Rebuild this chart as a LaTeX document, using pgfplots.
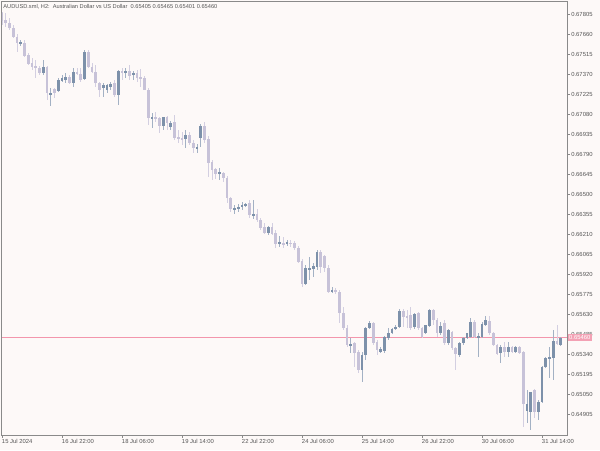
\documentclass[border=0pt]{standalone}
\usepackage{fontspec}
\setmainfont{Liberation Sans}
\usepackage{pgfplots}
\usepackage{pgfplotstable}
\pgfplotsset{compat=1.18}
\definecolor{bg}{HTML}{FDF9F8}
\definecolor{bull}{HTML}{7D91AA}
\definecolor{bear}{HTML}{C7C2D8}
\definecolor{bullw}{HTML}{A3B1C4}
\definecolor{bearw}{HTML}{D3CFE1}
\definecolor{framec}{HTML}{8A8A8A}
\definecolor{txt}{HTML}{555555}
\definecolor{curline}{RGB}{243,150,172}
\definecolor{plabel}{HTML}{F3A1B4}

\pgfplotstableread{
i o h l c
0 0.67812 0.67820 0.67725 0.67754
1 0.67762 0.67812 0.67711 0.67740
2 0.67740 0.67776 0.67689 0.67704
3 0.67704 0.67725 0.67631 0.67638
4 0.67638 0.67660 0.67530 0.67595
5 0.67588 0.67617 0.67573 0.67602
6 0.67595 0.67617 0.67493 0.67501
7 0.67508 0.67522 0.67435 0.67443
8 0.67450 0.67486 0.67399 0.67421
9 0.67428 0.67472 0.67341 0.67414
10 0.67414 0.67428 0.67363 0.67377
11 0.67377 0.67472 0.67363 0.67421
12 0.67421 0.67428 0.67182 0.67232
13 0.67225 0.67269 0.67138 0.67232
14 0.67261 0.67269 0.67196 0.67232
15 0.67247 0.67341 0.67240 0.67327
16 0.67319 0.67363 0.67312 0.67341
17 0.67327 0.67377 0.67305 0.67348
18 0.67348 0.67363 0.67298 0.67305
19 0.67305 0.67414 0.67276 0.67385
20 0.67385 0.67414 0.67363 0.67370
21 0.67370 0.67414 0.67312 0.67327
22 0.67334 0.67544 0.67327 0.67530
23 0.67530 0.67544 0.67414 0.67421
24 0.67421 0.67450 0.67377 0.67385
25 0.67385 0.67435 0.67276 0.67305
26 0.67305 0.67312 0.67203 0.67254
27 0.67269 0.67305 0.67203 0.67290
28 0.67254 0.67298 0.67232 0.67290
29 0.67276 0.67312 0.67254 0.67298
30 0.67305 0.67327 0.67203 0.67218
31 0.67218 0.67399 0.67145 0.67392
32 0.67392 0.67414 0.67327 0.67377
33 0.67377 0.67414 0.67341 0.67392
34 0.67392 0.67435 0.67327 0.67356
35 0.67363 0.67392 0.67327 0.67377
36 0.67377 0.67399 0.67312 0.67341
37 0.67348 0.67406 0.67276 0.67334
38 0.67341 0.67356 0.67254 0.67254
39 0.67254 0.67269 0.67000 0.67051
40 0.67051 0.67087 0.66979 0.67058
41 0.67058 0.67095 0.67022 0.67051
42 0.67051 0.67058 0.66942 0.66993
43 0.66993 0.67058 0.66964 0.67058
44 0.67058 0.67066 0.66964 0.67015
45 0.66986 0.67029 0.66964 0.67015
46 0.67022 0.67073 0.66892 0.66906
47 0.66913 0.66964 0.66870 0.66906
48 0.66906 0.66950 0.66855 0.66899
49 0.66899 0.66964 0.66834 0.66928
50 0.66928 0.66950 0.66855 0.66870
51 0.66870 0.66892 0.66797 0.66834
52 0.66826 0.66863 0.66797 0.66841
53 0.66906 0.67008 0.66841 0.66993
54 0.66993 0.67022 0.66870 0.66892
55 0.66899 0.66921 0.66623 0.66725
56 0.66732 0.66747 0.66602 0.66674
57 0.66681 0.66689 0.66609 0.66645
58 0.66645 0.66689 0.66602 0.66660
59 0.66652 0.66660 0.66587 0.66616
60 0.66616 0.66631 0.66435 0.66471
61 0.66471 0.66478 0.66370 0.66391
62 0.66384 0.66420 0.66355 0.66399
63 0.66391 0.66428 0.66370 0.66406
64 0.66406 0.66442 0.66384 0.66420
65 0.66420 0.66435 0.66406 0.66428
66 0.66435 0.66457 0.66326 0.66348
67 0.66348 0.66457 0.66319 0.66355
68 0.66355 0.66391 0.66297 0.66312
69 0.66312 0.66326 0.66239 0.66254
70 0.66261 0.66290 0.66210 0.66217
71 0.66217 0.66268 0.66203 0.66261
72 0.66261 0.66290 0.66203 0.66210
73 0.66217 0.66239 0.66109 0.66138
74 0.66145 0.66196 0.66116 0.66152
75 0.66145 0.66188 0.66109 0.66138
76 0.66138 0.66167 0.66123 0.66152
77 0.66145 0.66167 0.66116 0.66143
78 0.66145 0.66159 0.66094 0.66109
79 0.66109 0.66123 0.66000 0.66007
80 0.66014 0.66029 0.65826 0.65848
81 0.65848 0.65985 0.65840 0.65964
82 0.65956 0.66043 0.65877 0.65964
83 0.65956 0.66000 0.65898 0.65978
84 0.65971 0.66094 0.65949 0.66080
85 0.66080 0.66094 0.65927 0.65971
86 0.66051 0.66058 0.65935 0.65964
87 0.65964 0.65985 0.65782 0.65790
88 0.65790 0.65826 0.65782 0.65804
89 0.65804 0.65819 0.65775 0.65790
90 0.65790 0.65804 0.65565 0.65637
91 0.65637 0.65681 0.65514 0.65529
92 0.65529 0.65550 0.65391 0.65405
93 0.65405 0.65456 0.65347 0.65413
94 0.65420 0.65427 0.65246 0.65347
95 0.65355 0.65369 0.65202 0.65224
96 0.65224 0.65355 0.65137 0.65333
97 0.65333 0.65536 0.65297 0.65529
98 0.65529 0.65579 0.65521 0.65565
99 0.65565 0.65572 0.65405 0.65420
100 0.65427 0.65442 0.65333 0.65369
101 0.65355 0.65391 0.65347 0.65376
102 0.65362 0.65471 0.65347 0.65463
103 0.65456 0.65529 0.65442 0.65492
104 0.65492 0.65529 0.65485 0.65521
105 0.65521 0.65550 0.65514 0.65536
106 0.65536 0.65666 0.65529 0.65652
107 0.65652 0.65666 0.65536 0.65608
108 0.65616 0.65659 0.65529 0.65608
109 0.65623 0.65681 0.65514 0.65529
110 0.65536 0.65637 0.65521 0.65630
111 0.65637 0.65645 0.65514 0.65529
112 0.65529 0.65536 0.65456 0.65463
113 0.65492 0.65550 0.65485 0.65550
114 0.65543 0.65666 0.65536 0.65659
115 0.65659 0.65666 0.65550 0.65587
116 0.65587 0.65601 0.65463 0.65492
117 0.65492 0.65572 0.65478 0.65543
118 0.65565 0.65587 0.65405 0.65420
119 0.65420 0.65521 0.65405 0.65514
120 0.65500 0.65507 0.65369 0.65384
121 0.65384 0.65391 0.65224 0.65340
122 0.65333 0.65427 0.65318 0.65420
123 0.65420 0.65463 0.65405 0.65456
124 0.65456 0.65492 0.65449 0.65492
125 0.65463 0.65601 0.65456 0.65572
126 0.65572 0.65587 0.65456 0.65463
127 0.65463 0.65492 0.65318 0.65471
128 0.65463 0.65572 0.65456 0.65558
129 0.65550 0.65616 0.65543 0.65587
130 0.65579 0.65616 0.65478 0.65492
131 0.65492 0.65500 0.65398 0.65405
132 0.65405 0.65413 0.65333 0.65340
133 0.65347 0.65405 0.65275 0.65391
134 0.65391 0.65427 0.65318 0.65355
135 0.65355 0.65427 0.65318 0.65391
136 0.65391 0.65398 0.65347 0.65355
137 0.65355 0.65398 0.65347 0.65391
138 0.65391 0.65398 0.65340 0.65347
139 0.65355 0.65362 0.64811 0.64978
140 0.64927 0.65079 0.64840 0.64978
141 0.64920 0.65065 0.64789 0.65065
142 0.65079 0.65086 0.64876 0.64920
143 0.64920 0.65007 0.64862 0.64992
144 0.64992 0.65253 0.64985 0.65246
145 0.65246 0.65318 0.65239 0.65311
146 0.65311 0.65391 0.65166 0.65318
147 0.65311 0.65514 0.65152 0.65434
148 0.65434 0.65550 0.65405 0.65413
149 0.65405 0.65465 0.65401 0.65460
}\candles

\begin{document}
\begin{tikzpicture}
\fill[bg] (0pt,0pt) rectangle (450pt,-337.5pt);
\begin{axis}[
  at={(1.5pt,-0.75pt)}, anchor=north west,
  scale only axis, width=423.75pt, height=325.5pt,
  xmin=0, xmax=150.67, ymin=0.6475275, ymax=0.6789925,
  axis background/.style={fill=bg},
  axis line style={framec, line width=0.75pt},
  tick align=outside, major tick length=2.25pt,
  tick style={framec, line width=0.6pt},
  xtick pos=left, ytick pos=right, yticklabel pos=right,
  xtick={0,16,32,48,64,80,96,112,128,144},
  xticklabels={15 Jul 2024,16 Jul 22:00,18 Jul 06:00,19 Jul 14:00,22 Jul 22:00,24 Jul 06:00,25 Jul 14:00,26 Jul 22:00,30 Jul 06:00,31 Jul 14:00},
  ytick={0.64905,0.65050,0.65195,0.65340,0.65485,0.65630,0.65775,0.65920,0.66065,0.66210,0.66355,0.66500,0.66645,0.66790,0.66935,0.67080,0.67225,0.67370,0.67515,0.67660,0.67805},
  yticklabels={0.64905,0.65050,0.65195,0.65340,0.65485,0.65630,0.65775,0.65920,0.66065,0.66210,0.66355,0.66500,0.66645,0.66790,0.66935,0.67080,0.67225,0.67370,0.67515,0.67660,0.67805},
  ticklabel style={font=\fontsize{4.4}{5}\selectfont, text=txt, inner sep=0.8pt},
  xticklabel style={anchor=north west, xshift=-1pt},
  yticklabel style={anchor=west},
  candle/.style={draw=none, no markers, forget plot,
    error bars/y dir=both, error bars/y explicit, error bars/error mark=none},
]
\fill[curline] (axis cs:0,0.654555) rectangle (axis cs:150.67,0.654645);
% wicks
\addplot[candle,
  restrict expr to domain={\thisrow{c}-\thisrow{o}}{0:1},
  error bars/error bar style={draw=bullw, line width=0.6pt}]
  table[x=i, y expr={(\thisrow{h}+\thisrow{l})/2}, y error expr={(\thisrow{h}-\thisrow{l})/2}] {\candles};
\addplot[candle,
  restrict expr to domain={\thisrow{o}-\thisrow{c}}{0.000001:1},
  error bars/error bar style={draw=bearw, line width=0.6pt}]
  table[x=i, y expr={(\thisrow{h}+\thisrow{l})/2}, y error expr={(\thisrow{h}-\thisrow{l})/2}] {\candles};
% bodies
\addplot[candle,
  restrict expr to domain={\thisrow{c}-\thisrow{o}}{0:1},
  error bars/error bar style={draw=bull, line width=2.1pt}]
  table[x=i, y expr={(\thisrow{o}+\thisrow{c})/2}, y error expr={max(abs(\thisrow{c}-\thisrow{o})/2,0.00003)}] {\candles};
\addplot[candle,
  restrict expr to domain={\thisrow{o}-\thisrow{c}}{0.000001:1},
  error bars/error bar style={draw=bear, line width=2.1pt}]
  table[x=i, y expr={(\thisrow{o}+\thisrow{c})/2}, y error expr={max(abs(\thisrow{c}-\thisrow{o})/2,0.00003)}] {\candles};
\coordinate (pl) at (axis cs:150.67,0.65460);
\end{axis}
\node[anchor=west, fill=plabel, text=white, inner xsep=1pt, inner ysep=1.3pt, font=\fontsize{4.4}{5}\selectfont, xshift=0.4pt] at (pl) {0.65460};
\node[anchor=west, text=txt, inner sep=0pt, font=\fontsize{4.25}{5}\selectfont] at (2.4pt,-5.2pt) {AUDUSD.sml, H2:\ \ Australian Dollar vs US Dollar\ \ 0.65405 0.65465 0.65401 0.65460};
\end{tikzpicture}
\end{document}
